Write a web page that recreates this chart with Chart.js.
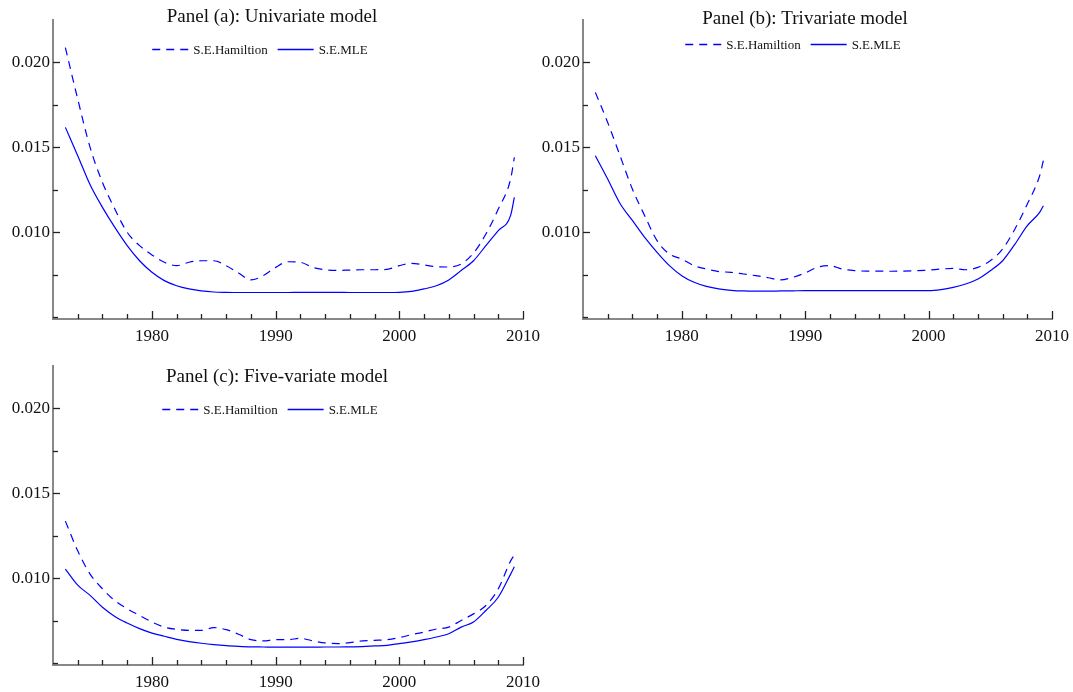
<!DOCTYPE html>
<html>
<head>
<meta charset="utf-8">
<script src="https://cdn.jsdelivr.net/npm/chart.js@4.4.1/dist/chart.umd.min.js"></script>
<style>
    html, body { margin: 0; padding: 0; background: #fff; }
    body { width: 1073px; height: 692px; position: relative; overflow: hidden; }
    .panel { position: absolute; }
</style>
</head>
<body>
<div class="panel" style="left:0px;top:0px"><canvas id="chartA" width="540" height="345"></canvas></div>
<div class="panel" style="left:530px;top:0px"><canvas id="chartB" width="543" height="345"></canvas></div>
<div class="panel" style="left:0px;top:346px"><canvas id="chartC" width="540" height="345"></canvas></div>
<script>
// data (yearly, last point is mid 2009)
const years = [1973, 1974, 1975, 1976, 1977, 1978, 1979, 1980, 1981, 1982, 1983, 1984, 1985, 1986, 1987, 1988, 1989,
    1990, 1991, 1992, 1993, 1994, 1995, 1996, 1997, 1998, 1999, 2000, 2001, 2002, 2003, 2004, 2005, 2006, 2007, 2008,
    2009, 2009.3]

const hamA = [0.02088, 0.01784, 0.0150, 0.01294, 0.01137, 0.0100, 0.00922, 0.00867, 0.00824, 0.00804, 0.00824, 0.00833,
    0.00833, 0.00804, 0.00761, 0.0072, 0.00745, 0.00794, 0.00827, 0.00824, 0.00794, 0.0078, 0.00776, 0.00778, 0.0078,
    0.0078, 0.00782, 0.00804, 0.00818, 0.00808, 0.00798, 0.00796, 0.00814, 0.00878, 0.0099, 0.01137, 0.01314, 0.01441]
const mleA = [0.01618, 0.01451, 0.0128, 0.01147, 0.01029, 0.00922, 0.00833, 0.00765, 0.00716, 0.00686, 0.00667, 0.00655,
    0.00649, 0.00647, 0.00646, 0.00646, 0.00646, 0.00646, 0.00646, 0.00647, 0.00647, 0.00647, 0.00647, 0.00646, 0.00646,
    0.00646, 0.00646, 0.00647, 0.00653, 0.00667, 0.00686, 0.0072, 0.00775, 0.00833, 0.00922, 0.0101, 0.0110, 0.01206]

const hamB = [0.01824, 0.01647, 0.01451, 0.01255, 0.01098, 0.00951, 0.00873, 0.00843, 0.00804, 0.00784, 0.00769, 0.00765,
    0.00755, 0.00745, 0.00733, 0.0072, 0.00735, 0.00761, 0.00794, 0.00804, 0.00784, 0.00775, 0.00772, 0.00772, 0.00771,
    0.00772, 0.00774, 0.00778, 0.00784, 0.00788, 0.0078, 0.00794, 0.00833, 0.00902, 0.0102, 0.01167, 0.01333, 0.01422]
const mleB = [0.01451, 0.01314, 0.0117, 0.0107, 0.0097, 0.00882, 0.00804, 0.00745, 0.00706, 0.00682, 0.00667, 0.00659,
    0.00655, 0.00654, 0.00654, 0.00655, 0.00656, 0.00657, 0.00657, 0.00657, 0.00657, 0.00657, 0.00657, 0.00657, 0.00657,
    0.00657, 0.00657, 0.00657, 0.00663, 0.00676, 0.00696, 0.00725, 0.00774, 0.00833, 0.00931, 0.01039, 0.01118, 0.01157]

const hamC = [0.01337, 0.01162, 0.01025, 0.00938, 0.00869, 0.00821, 0.00782, 0.00743, 0.00713, 0.007, 0.00694, 0.00694,
    0.0071, 0.00698, 0.00671, 0.00639, 0.00632, 0.00639, 0.00639, 0.00647, 0.00632, 0.0062, 0.00616, 0.00622, 0.00632,
    0.00635, 0.00639, 0.00651, 0.00669, 0.00684, 0.00702, 0.00713, 0.00752, 0.00791, 0.0084, 0.00938, 0.01103, 0.01138]
const mleC = [0.01055, 0.0096, 0.009, 0.0083, 0.00776, 0.00737, 0.00704, 0.00678, 0.00659, 0.00641, 0.00628, 0.00618,
    0.0061, 0.00604, 0.006, 0.00597, 0.00596, 0.00595, 0.00595, 0.00595, 0.00595, 0.00596, 0.00596, 0.00597, 0.00598,
    0.00602, 0.00606, 0.00616, 0.00626, 0.00639, 0.00655, 0.00674, 0.00713, 0.00743, 0.00811, 0.00889, 0.01025, 0.01068]

const seriesNames = ['S.E.Hamiltion', 'S.E.MLE']
const xTickLabels = [1980, 1990, 2000, 2010]
const yTickLabels = [0.010, 0.015, 0.020]

const FONT = '"Liberation Serif", "Times New Roman", serif'
const BLUE = '#0000ff'

const isYLabel = v => yTickLabels.some(t => Math.abs(t - v) < 1e-7)

// ticks pointing into the plot, longer on labelled values
const innerTicks = {
    id: 'innerTicks',
    afterDraw(chart) {
        const { ctx } = chart
        const x = chart.scales.x, y = chart.scales.y
        ctx.save()
        ctx.strokeStyle = '#222'
        ctx.lineWidth = 1.3
        x.ticks.forEach(t => {
            if (t.value <= x.min + 1e-9 || t.value > x.max + 1e-9) return
            const px = Math.round(x.getPixelForValue(t.value)) + 0.5
            const len = xTickLabels.includes(t.value) ? 8 : 5
            ctx.beginPath()
            ctx.moveTo(px, x.top)
            ctx.lineTo(px, x.top - len)
            ctx.stroke()
        })
        y.ticks.forEach(t => {
            if (t.value <= y.min + 1e-9 || t.value >= y.max - 1e-9) return
            const py = Math.round(y.getPixelForValue(t.value)) + 0.5
            const len = isYLabel(t.value) ? 7 : 5
            ctx.beginPath()
            ctx.moveTo(y.right, py)
            ctx.lineTo(y.right + len, py)
            ctx.stroke()
        })
        ctx.restore()
    }
}

// panel title and the in-plot legend
const panelText = {
    id: 'panelText',
    afterDraw(chart, args, opts) {
        const { ctx } = chart
        ctx.save()
        ctx.fillStyle = '#111'
        ctx.font = '19px ' + FONT
        ctx.textAlign = 'center'
        ctx.textBaseline = 'middle'
        ctx.fillText(opts.title, opts.titleX, opts.titleY)

        ctx.font = '13px ' + FONT
        const lineLen = 36, gap = 5, itemGap = 10
        const items = chart.data.datasets.map(ds => ({ ds, w: ctx.measureText(ds.label).width }))
        const total = items.reduce((s, it) => s + lineLen + gap + it.w, 0) + itemGap * (items.length - 1)
        let cx = opts.legendX - total / 2
        ctx.textAlign = 'left'
        items.forEach(it => {
            ctx.strokeStyle = it.ds.borderColor
            ctx.lineWidth = 1.3
            ctx.setLineDash(it.ds.borderDash || [])
            ctx.beginPath()
            ctx.moveTo(cx, opts.legendY - 1.5)
            ctx.lineTo(cx + lineLen, opts.legendY - 1.5)
            ctx.stroke()
            ctx.setLineDash([])
            cx += lineLen + gap
            ctx.fillText(it.ds.label, cx, opts.legendY)
            cx += it.w + itemGap
        })
        ctx.restore()
    }
}

function makePanel(id, title, ham, mle, text, padRight) {
    const ctx = document.getElementById(id)
    return new Chart(ctx, {
        type: 'line',
        data: {
            datasets: [
                {
                    label: seriesNames[0],
                    data: years.map((yr, i) => ({ x: yr, y: ham[i] })),
                    borderColor: BLUE,
                    borderWidth: 1.2,
                    borderDash: [8, 6],
                    pointRadius: 0,
                    cubicInterpolationMode: 'monotone',
                    fill: false
                },
                {
                    label: seriesNames[1],
                    data: years.map((yr, i) => ({ x: yr, y: mle[i] })),
                    borderColor: BLUE,
                    borderWidth: 1.2,
                    pointRadius: 0,
                    cubicInterpolationMode: 'monotone',
                    fill: false
                }
            ]
        },
        options: {
            responsive: false,
            animation: false,
            devicePixelRatio: 1,
            layout: { padding: { top: 20, right: padRight, left: 0, bottom: 0 } },
            plugins: {
                legend: { display: false },
                title: { display: false },
                tooltip: { enabled: false },
                panelText: { title, ...text }
            },
            scales: {
                x: {
                    type: 'linear',
                    min: 1972,
                    max: 2010,
                    afterFit: s => {
                        s.height = 26
                        s.paddingLeft = 0
                        s.paddingRight = 0
                    },
                    border: { color: '#888', width: 2 },
                    grid: { drawOnChartArea: false, drawTicks: false },
                    ticks: {
                        stepSize: 2,
                        autoSkip: false,
                        maxRotation: 0,
                        padding: 7,
                        color: '#111',
                        font: { family: FONT, size: 17 },
                        callback: v => xTickLabels.includes(v) ? String(v) : ''
                    }
                },
                y: {
                    min: 0.0049,
                    max: 0.0225,
                    afterFit: s => {
                        s.width = 53
                        s.paddingTop = 0
                        s.paddingBottom = 0
                    },
                    border: { color: '#888', width: 2 },
                    grid: { drawOnChartArea: false, drawTicks: false },
                    ticks: {
                        stepSize: 0.0025,
                        includeBounds: false,
                        autoSkip: false,
                        padding: 3,
                        color: '#111',
                        font: { family: FONT, size: 17 },
                        callback: v => isYLabel(v) ? v.toFixed(3) : ''
                    }
                }
            }
        },
        plugins: [innerTicks, panelText]
    })
}

makePanel('chartA', 'Panel (a): Univariate model', hamA, mleA,
    { titleX: 272, titleY: 17, legendX: 260, legendY: 51 }, 17)
makePanel('chartB', 'Panel (b): Trivariate model', hamB, mleB,
    { titleX: 275, titleY: 19, legendX: 263, legendY: 46 }, 21)
makePanel('chartC', 'Panel (c): Five-variate model', hamC, mleC,
    { titleX: 277, titleY: 31, legendX: 270, legendY: 65 }, 17)
</script>
</body>
</html>
